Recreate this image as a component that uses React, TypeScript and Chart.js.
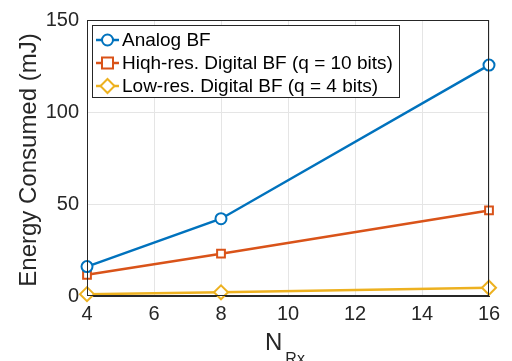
import React, { useEffect, useRef } from "react";
import { Chart, registerables } from "chart.js";

Chart.register(...registerables);

const nRx = [4, 8, 16];
const analogBF = [16, 42, 125.5];
const highResBF = [11.5, 23, 46.5];
const lowResBF = [1, 2, 4.5];
const seriesLabels = [
  "Analog BF",
  "Hiqh-res. Digital BF (q = 10 bits)",
  "Low-res. Digital BF (q = 4 bits)",
];
const colors = ["#0072BD", "#D95319", "#EDB120"];
const markers = ["circle", "rect", "rectRot"];
const markerRadius = [5.5, 5.5, 7];
const yTitle = "Energy Consumed (mJ)";
const xTitleMain = "N";
const xTitleSub = "Rx";

const FONT = "'Liberation Sans', Arial, Helvetica, sans-serif";
const TEXT = "#262626";
const LW = 2.5;

function drawMarker(ctx: CanvasRenderingContext2D, kind: string, x: number, y: number, r: number, color: string) {
  ctx.save();
  ctx.strokeStyle = color;
  ctx.fillStyle = "#ffffff";
  ctx.lineWidth = 2;
  ctx.beginPath();
  if (kind === "circle") {
    ctx.arc(x, y, r, 0, Math.PI * 2);
  } else if (kind === "rect") {
    ctx.rect(x - r, y - r, 2 * r, 2 * r);
  } else {
    ctx.moveTo(x, y - r);
    ctx.lineTo(x + r, y);
    ctx.lineTo(x, y + r);
    ctx.lineTo(x - r, y);
    ctx.closePath();
  }
  ctx.fill();
  ctx.stroke();
  ctx.restore();
}

const decorPlugin = {
  id: "decor",
  afterDraw(chart: any) {
    const ctx = chart.ctx as CanvasRenderingContext2D;
    const a = chart.chartArea;
    ctx.save();
    // box
    ctx.strokeStyle = TEXT;
    ctx.lineWidth = 1;
    ctx.strokeRect(a.left + 0.5, a.top + 0.5, a.right - a.left - 1, a.bottom - a.top - 1);

    // legend
    const lx = 92, ly = 25, lw = 307, lh = 72;
    ctx.fillStyle = "#ffffff";
    ctx.fillRect(lx, ly, lw, lh);
    ctx.strokeStyle = TEXT;
    ctx.strokeRect(lx + 0.5, ly + 0.5, lw, lh);
    const rows = [40, 63, 86];
    ctx.font = `19px ${FONT}`;
    ctx.textBaseline = "middle";
    ctx.textAlign = "left";
    seriesLabels.forEach((label, i) => {
      const y = rows[i];
      ctx.strokeStyle = colors[i];
      ctx.lineWidth = LW;
      ctx.beginPath();
      ctx.moveTo(96, y);
      ctx.lineTo(119, y);
      ctx.stroke();
      drawMarker(ctx, markers[i], 107.5, y, markerRadius[i], colors[i]);
      ctx.fillStyle = "#000000";
      ctx.fillText(label, 122, y + 1);
    });

    // y title
    ctx.fillStyle = TEXT;
    ctx.font = `24px ${FONT}`;
    ctx.save();
    ctx.translate(36, 160);
    ctx.rotate(-Math.PI / 2);
    ctx.textAlign = "center";
    ctx.textBaseline = "alphabetic";
    ctx.fillText(yTitle, 0, 0);
    ctx.restore();

    // x title
    ctx.textAlign = "left";
    ctx.textBaseline = "alphabetic";
    ctx.font = `24px ${FONT}`;
    const nw = ctx.measureText(xTitleMain).width;
    const startX = 265;
    ctx.fillText(xTitleMain, startX, 350);
    ctx.font = `16px ${FONT}`;
    ctx.fillText(xTitleSub, startX + nw + 3, 364);
    ctx.restore();
  },
};

export default function App() {
  const ref = useRef<HTMLCanvasElement>(null);
  useEffect(() => {
    if (!ref.current) return;
    const mk = (data: number[], i: number) => ({
      label: seriesLabels[i],
      data: nRx.map((x, k) => ({ x, y: data[k] })),
      borderColor: colors[i],
      backgroundColor: "#ffffff",
      borderWidth: LW,
      pointStyle: markers[i] as any,
      pointRadius: markerRadius[i],
      pointBorderWidth: 2,
      pointBackgroundColor: "#ffffff",
      pointBorderColor: colors[i],
      tension: 0,
      clip: false as any,
    });
    const chart = new Chart(ref.current, {
      type: "line",
      data: {
        datasets: [mk(analogBF, 0), mk(highResBF, 1), mk(lowResBF, 2)],
      },
      options: {
        responsive: false,
        animation: false,
        devicePixelRatio: 1,
        layout: { padding: { left: 0, top: 19, right: 23, bottom: 0 } },
        plugins: { legend: { display: false }, tooltip: { enabled: false } },
        scales: {
          x: {
            type: "linear",
            min: 4,
            max: 16,
            ticks: { stepSize: 2, color: TEXT, font: { size: 20, family: FONT }, padding: 6, maxRotation: 0 },
            grid: { color: "#e5e5e5", drawTicks: false },
            border: { color: TEXT },
            afterFit: (s: any) => { s.height = 65; },
          },
          y: {
            type: "linear",
            min: 0,
            max: 150,
            ticks: { stepSize: 50, color: TEXT, font: { size: 20, family: FONT }, padding: 8 },
            grid: { color: "#e5e5e5", drawTicks: false },
            border: { color: TEXT },
            afterFit: (s: any) => { s.width = 87; },
          },
        },
      },
      plugins: [decorPlugin],
    });
    return () => chart.destroy();
  }, []);
  return (
    <div style={{ position: "absolute", left: 0, top: 0, width: 512, height: 361, background: "#fff" }}>
      <canvas ref={ref} width={512} height={361} style={{ display: "block" }} />
    </div>
  );
}
